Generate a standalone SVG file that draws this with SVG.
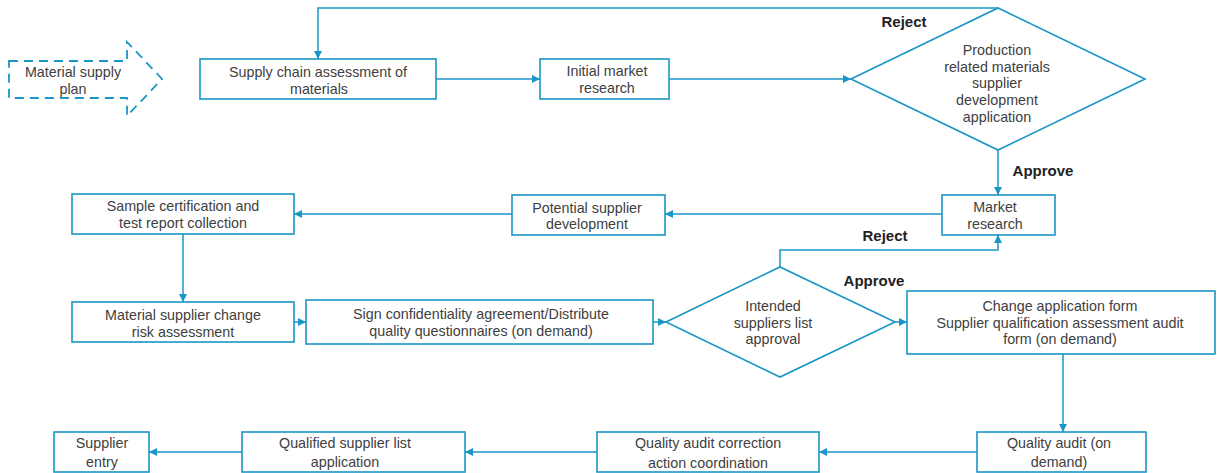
<svg xmlns="http://www.w3.org/2000/svg" width="1217" height="473" viewBox="0 0 1217 473">
<defs>
<marker id="ah" viewBox="0 0 10 10" refX="10" refY="5" markerWidth="8" markerHeight="8" markerUnits="userSpaceOnUse" orient="auto">
<path d="M0,0 L10,5 L0,10 z" fill="#1a96c6"/>
</marker>
<style>
.box{fill:#fff;stroke:#1a96c6;stroke-width:1.6}
.dash{fill:none;stroke:#1a96c6;stroke-width:1.8;stroke-dasharray:9,6}
.arr{fill:none;stroke:#1a96c6;stroke-width:1.5;marker-end:url(#ah)}
text{font-family:"Liberation Sans",Arial,sans-serif;font-size:14.3px;fill:#404040;text-anchor:middle}
.lbl{font-weight:bold;font-size:15px;fill:#222}
</style>
</defs>
<rect width="1217" height="473" fill="#fff"/>

<g id="connectors">
<polyline class="arr" points="998,8 318,8 318,59"/>
<line class="arr" x1="436" y1="79" x2="540" y2="79"/>
<line class="arr" x1="669" y1="79" x2="851" y2="79"/>
<line class="arr" x1="998" y1="150" x2="998" y2="195"/>
<line class="arr" x1="942" y1="214" x2="665" y2="214"/>
<line class="arr" x1="512" y1="214" x2="294" y2="214"/>
<line class="arr" x1="183" y1="234" x2="183" y2="302"/>
<line class="arr" x1="294" y1="322" x2="306" y2="322"/>
<line class="arr" x1="653" y1="322" x2="666" y2="322"/>
<polyline class="arr" points="780,267 780,250 998,250 998,235"/>
<line class="arr" x1="895" y1="322" x2="907" y2="322"/>
<line class="arr" x1="1063" y1="354" x2="1063" y2="432"/>
<line class="arr" x1="977" y1="452" x2="819" y2="452"/>
<line class="arr" x1="597" y1="452" x2="465" y2="452"/>
<line class="arr" x1="242" y1="452" x2="149" y2="452"/>
<text class="lbl" x="904" y="27">Reject</text>
<text class="lbl" x="1043" y="176">Approve</text>
<text class="lbl" x="885" y="241">Reject</text>
<text class="lbl" x="874" y="286">Approve</text>
</g>

<g id="material-supply-plan">
<polygon class="dash" points="9,61 127,61 127,42 162,79 127,116 127,98 9,98"/>
<text x="73" y="77">Material supply</text>
<text x="73" y="94">plan</text>
</g>

<g id="supply-chain-assessment">
<rect class="box" x="200" y="59" width="236" height="40"/>
<text x="318" y="77">Supply chain assessment of</text>
<text x="319" y="94">materials</text>
</g>

<g id="initial-market-research">
<rect class="box" x="540" y="59" width="129" height="40"/>
<text x="607" y="76">Initial market</text>
<text x="607" y="93">research</text>
</g>

<g id="development-application">
<polygon class="box" points="851,79 998,8 1145,79 998,150"/>
<text x="997" y="55">Production</text>
<text x="997" y="72">related materials</text>
<text x="997" y="88">supplier</text>
<text x="997" y="105">development</text>
<text x="997" y="122">application</text>
</g>

<g id="market-research">
<rect class="box" x="942" y="195" width="113" height="40"/>
<text x="995" y="212">Market</text>
<text x="995" y="229">research</text>
</g>

<g id="potential-supplier-development">
<rect class="box" x="512" y="195" width="153" height="40"/>
<text x="587" y="213">Potential supplier</text>
<text x="587" y="229">development</text>
</g>

<g id="sample-certification">
<rect class="box" x="72" y="194" width="222" height="40"/>
<text x="183" y="211">Sample certification and</text>
<text x="183" y="228">test report collection</text>
</g>

<g id="risk-assessment">
<rect class="box" x="72" y="302" width="222" height="40"/>
<text x="183" y="320">Material supplier change</text>
<text x="183" y="337">risk assessment</text>
</g>

<g id="sign-confidentiality">
<rect class="box" x="306" y="300" width="347" height="44"/>
<text x="481" y="319">Sign confidentiality agreement/Distribute</text>
<text x="481" y="336">quality questionnaires (on demand)</text>
</g>

<g id="intended-suppliers-approval">
<polygon class="box" points="666,322 780,267 895,322 780,377"/>
<text x="773" y="311">Intended</text>
<text x="773" y="328">suppliers list</text>
<text x="773" y="344">approval</text>
</g>

<g id="change-application-form">
<rect class="box" x="907" y="291" width="308" height="63"/>
<text x="1060" y="311">Change application form</text>
<text x="1060" y="328">Supplier qualification assessment audit</text>
<text x="1060" y="344">form (on demand)</text>
</g>

<g id="quality-audit">
<rect class="box" x="977" y="432" width="169" height="40"/>
<text x="1059" y="448">Quality audit (on</text>
<text x="1059" y="467">demand)</text>
</g>

<g id="quality-audit-correction">
<rect class="box" x="597" y="432" width="222" height="40"/>
<text x="708" y="448">Quality audit correction</text>
<text x="708" y="468">action coordination</text>
</g>

<g id="qualified-supplier-list">
<rect class="box" x="242" y="432" width="223" height="40"/>
<text x="345" y="448">Qualified supplier list</text>
<text x="345" y="467">application</text>
</g>

<g id="supplier-entry">
<rect class="box" x="54" y="432" width="95" height="40"/>
<text x="102" y="448">Supplier</text>
<text x="102" y="467">entry</text>
</g>
</svg>
